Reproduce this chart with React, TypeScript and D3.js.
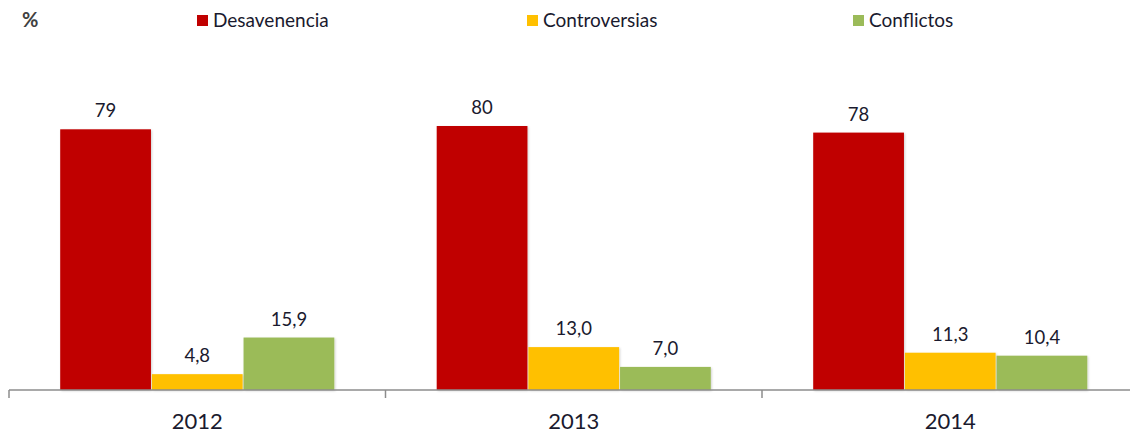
import React from "react";
import * as d3 from "d3";

const years = ["2012", "2013", "2014"];
const seriesNames = ["Desavenencia", "Controversias", "Conflictos"];
const desavenencia = [79, 80, 78];
const controversias = [4.8, 13.0, 11.3];
const conflictos = [15.9, 7.0, 10.4];
const seriesDecimals = [0, 1, 1];
const colors = ["#C00000", "#FFC000", "#9BBB59"];

const W = 1130;
const H = 434;
const FONT = "Lato, Carlito, Calibri, 'Open Sans', sans-serif";

export default function App() {
  const values = [desavenencia, controversias, conflictos];
  const x0 = d3.scaleBand<string>().domain(years).range([9, 1138.5]).padding(0);
  const bw = x0.bandwidth();
  const x1 = d3
    .scaleBand<string>()
    .domain(seriesNames)
    .range([bw * 0.136, bw * 0.864])
    .paddingInner(0.01);
  const y = d3.scaleLinear().domain([0, 90]).range([390, 93]);
  const fmt = (v: number, d: number) => v.toFixed(d).replace(".", ",");
  const tickXs = [...years.map((yr) => x0(yr) as number), (x0(years[years.length - 1]) as number) + bw];

  const legendX = [197, 527, 853];

  return (
    <div style={{ position: "fixed", left: 0, top: 0 }}>
      <svg width={W} height={H} style={{ display: "block", background: "#fff" }} fontFamily={FONT}>
        <defs>
          <filter id="sh" x="-10%" y="-10%" width="130%" height="130%">
            <feDropShadow dx="1" dy="1" stdDeviation="1" floodColor="#000" floodOpacity="0.18" />
          </filter>
        </defs>
        <text x={22} y={27} fontSize={20} fontWeight="bold" fill="#404040">%</text>
        {seriesNames.map((s, i) => (
          <g key={s}>
            <rect x={legendX[i]} y={15} width={11} height={11} fill={colors[i]} />
            <text x={legendX[i] + 16} y={27} fontSize={19} fill="#1a1a2e">{s}</text>
          </g>
        ))}
        {years.map((yr, yi) => (
          <g key={yr} transform={`translate(${x0(yr)},0)`}>
            {seriesNames.map((s, si) => {
              const v = values[si][yi];
              const bx = x1(s) as number;
              const w = x1.bandwidth();
              return (
                <g key={s}>
                  <rect x={bx} y={y(v)} width={w} height={390 - y(v)} fill={colors[si]} filter="url(#sh)" />
                  <text x={bx + w / 2} y={y(v) - 12} textAnchor="middle" fontSize={18.5} fill="#1a1a2e">
                    {fmt(v, seriesDecimals[si])}
                  </text>
                </g>
              );
            })}
            <text x={bw / 2} y={429} textAnchor="middle" fontSize={22} fill="#1a1a2e">{yr}</text>
          </g>
        ))}
        <line x1={9} x2={W} y1={390} y2={390} stroke="#8c8c8c" strokeWidth={1.5} />
        {tickXs.map((tx, i) => (
          <line key={i} x1={tx} x2={tx} y1={390} y2={398} stroke="#8c8c8c" strokeWidth={1.5} />
        ))}
      </svg>
    </div>
  );
}
